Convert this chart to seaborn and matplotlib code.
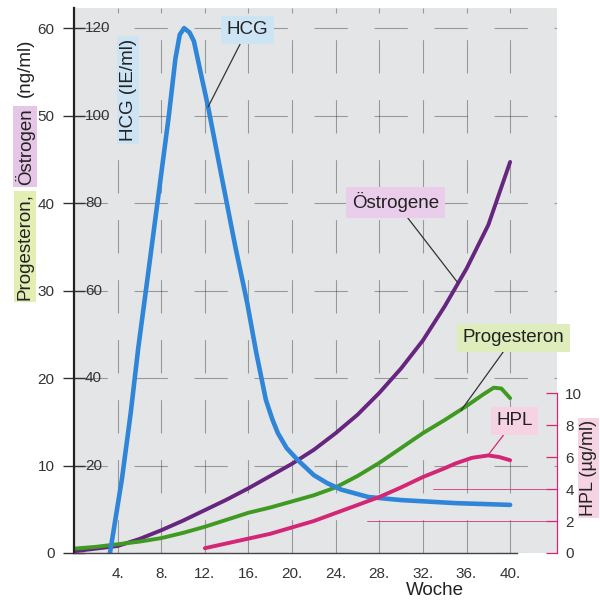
import numpy as np
import pandas as pd
import matplotlib.pyplot as plt
import matplotlib.transforms as mtransforms
import seaborn as sns

sns.set_style("ticks")
plt.rcParams['font.family'] = ['Liberation Sans', 'DejaVu Sans']

# HCG in IE/ml (inner scale = 2 x ng/ml scale)
hcg_weeks = [3.3, 4.4, 5.2, 5.9, 6.7, 7.65, 8.7, 9.3, 9.7, 10.1, 10.6, 11.0, 11.6, 12.3,
             13.0, 13.7, 14.8, 15.9, 16.7, 17.6, 18.2, 18.7, 19.5, 20.5, 22.0, 23.2,
             24.5, 27.0, 30.0, 35.0, 40.0]
hcg_values = [0, 17, 32, 47, 62, 80, 100, 113, 118.5, 120, 119, 117, 110, 102,
              93, 84, 70, 57, 46, 35, 30.5, 27.4, 24, 21.3, 17.8, 16,
              14.5, 12.8, 12.1, 11.4, 11.0]

# Oestrogene in ng/ml
oestro_weeks = [0, 2, 4, 6, 8, 10, 12, 14, 16, 18, 20, 22, 24, 26, 28, 30, 32, 34, 36, 38, 40]
oestro_values = [0.2, 0.5, 0.8, 1.6, 2.6, 3.7, 4.9, 6.1, 7.4, 8.8, 10.2, 11.8, 13.7, 15.8,
                 18.3, 21.1, 24.3, 28.2, 32.5, 37.5, 44.7]

# Progesteron in ng/ml
prog_weeks = [0, 2, 4, 6, 8, 10, 12, 14, 16, 18, 20, 22, 24, 26, 28, 30, 32, 34, 36,
              37.5, 38.5, 39.2, 40]
prog_values = [0.5, 0.7, 1.0, 1.3, 1.7, 2.3, 3.0, 3.8, 4.6, 5.2, 5.9, 6.6, 7.5, 8.8,
               10.3, 12.0, 13.7, 15.2, 16.8, 18.1, 18.9, 18.8, 17.7]

# HPL in ug/ml (right axis)
hpl_weeks = [12, 14, 16, 18, 20, 22, 24, 26, 28, 30, 32, 34, 35, 36.5, 38, 39, 40]
hpl_values = [0.3, 0.6, 0.9, 1.2, 1.6, 2.0, 2.5, 3.0, 3.5, 4.1, 4.75, 5.3, 5.6, 5.95,
              6.1, 6.0, 5.8]

left_ticks = [0, 10, 20, 30, 40, 50, 60]
hcg_ticks = [20, 40, 60, 80, 100, 120]
week_ticks = [4, 8, 12, 16, 20, 24, 28, 32, 36, 40]
hpl_ticks = [0, 2, 4, 6, 8, 10]

c_hcg = '#2f86d8'
c_oes = '#66267f'
c_prog = '#3f9a22'
c_hpl = '#d42677'

fig = plt.figure(figsize=(6, 6.03), dpi=100)
ax = fig.add_axes([74/600, 50/603, 483/600, 545/603])
ax.set_facecolor('#e4e5e6')
ax.set_xlim(0, 44.3)
ax.set_ylim(0, 62.3)

# sparse, broken-looking grid
ax.set_xticks(week_ticks)
ax.set_yticks(left_ticks)
ax.grid(True, color='#3c3c3c', lw=0.8, alpha=0.45, linestyle=(0, (30, 24)))
ax.set_axisbelow(True)

df_hcg = pd.DataFrame({'week': hcg_weeks, 'val': np.array(hcg_values) / 2})
df_oes = pd.DataFrame({'week': oestro_weeks, 'val': oestro_values})
df_prog = pd.DataFrame({'week': prog_weeks, 'val': prog_values})
sns.lineplot(data=df_oes, x='week', y='val', ax=ax, color=c_oes, lw=2.8)
sns.lineplot(data=df_prog, x='week', y='val', ax=ax, color=c_prog, lw=2.8)
sns.lineplot(data=df_hcg, x='week', y='val', ax=ax, color=c_hcg, lw=3.3)
for ln in ax.lines:
    ln.set_solid_joinstyle('round')
    ln.set_solid_capstyle('round')

ax.set_xticklabels([f'{w}.' for w in week_ticks])
ax.set_yticklabels([str(v) for v in left_ticks])
ax.tick_params(axis='x', length=0, pad=10, labelsize=11, labelcolor='#333')
ax.tick_params(axis='y', direction='inout', length=16, width=1, color='#333',
               pad=6, labelsize=11, labelcolor='#333')
ax.set_xlabel('')
ax.set_ylabel('')
for s in ['top', 'right']:
    ax.spines[s].set_visible(False)
ax.spines['left'].set_linewidth(1.6)
ax.spines['left'].set_color('#222')
ax.spines['bottom'].set_linewidth(1.0)
ax.spines['bottom'].set_color('#444')
ax.spines['bottom'].set_bounds(0, 40.6)

# inner HCG scale labels
trans = mtransforms.blended_transform_factory(ax.transAxes, ax.transData)
for v in hcg_ticks:
    ax.text(0.023, v / 2, str(v), transform=trans, ha='left', va='center',
            fontsize=11, color='#333')

ax.text(0.112, 0.85, 'HCG (IE/ml)', transform=ax.transAxes, rotation=90,
        ha='center', va='center', fontsize=13.5, color='#222',
        bbox=dict(boxstyle='square,pad=0.15', fc='#cde4f4', ec='none'))

ax.text(0.747, -0.068, 'Woche', transform=ax.transAxes, ha='center',
        va='center', fontsize=13.5, color='#222')

# right HPL axis
ax2 = ax.twinx()
ax2.set_ylim(0, 62.3 * 10 / (160 / 8.75))
df_hpl = pd.DataFrame({'week': hpl_weeks, 'val': hpl_values})
sns.lineplot(data=df_hpl, x='week', y='val', ax=ax2, color=c_hpl, lw=2.8)
ax2.lines[0].set_solid_capstyle('round')
ax2.lines[0].set_solid_joinstyle('round')
ax2.set_ylabel('')
ax2.set_yticks(hpl_ticks)
ax2.tick_params(axis='y', direction='in', length=8, color=c_hpl, width=0.9,
                pad=6, labelsize=11, labelcolor='#333')
for s in ['top', 'left', 'bottom']:
    ax2.spines[s].set_visible(False)
ax2.spines['right'].set_bounds(0, 10)
ax2.spines['right'].set_color(c_hpl)
ax2.spines['right'].set_linewidth(0.9)
ax2.axhline(2, xmin=0.607, xmax=1, color=c_hpl, lw=0.7, alpha=0.8)
ax2.axhline(4, xmin=0.743, xmax=1, color=c_hpl, lw=0.7, alpha=0.8)

# left composite axis label
fig.text(0.042, 0.5025, 'Progesteron,', rotation=90, ha='center', va='bottom',
         fontsize=13.5, color='#222',
         bbox=dict(boxstyle='square,pad=0.12', fc='#e3eeb4', ec='none'))
fig.text(0.042, 0.693, 'Östrogen', rotation=90, ha='center', va='bottom',
         fontsize=13.5, color='#222',
         bbox=dict(boxstyle='square,pad=0.12', fc='#e6c6e6', ec='none'))
fig.text(0.042, 0.839, '(ng/ml)', rotation=90, ha='center', va='bottom',
         fontsize=13.5, color='#222')

fig.text(0.981, 0.224, 'HPL (µg/ml)', rotation=90, ha='center', va='center',
         fontsize=13, color='#222',
         bbox=dict(boxstyle='square,pad=0.12', fc='#f6d3e2', ec='none'))

# curve labels with leader lines
arrow = dict(arrowstyle='-', color='#333', lw=0.9, shrinkA=0, shrinkB=0)
ax.annotate('HCG', xy=(12.3, 102 / 2), xytext=(15.9, 59.8), ha='center',
            va='center', fontsize=13.5, color='#222', arrowprops=arrow,
            bbox=dict(boxstyle='square,pad=0.3', fc='#cde4f4', ec='none'))
ax.annotate('Östrogene', xy=(35.2, 30.9), xytext=(29.5, 40.1), ha='center',
            va='center', fontsize=13.5, color='#222', arrowprops=arrow,
            bbox=dict(boxstyle='square,pad=0.3', fc='#e9cdea', ec='none'))
ax.annotate('Progesteron', xy=(35.5, 16.3), xytext=(40.3, 24.6), ha='center',
            va='center', fontsize=13.5, color='#222', arrowprops=arrow,
            bbox=dict(boxstyle='square,pad=0.3', fc='#dfedbc', ec='none'))
ax2.annotate('HPL', xy=(37.9, 6.05), xytext=(40.4, 8.26), ha='center',
             va='center', fontsize=13.5, color='#222',
             arrowprops=dict(arrowstyle='-', color=c_hpl, lw=0.9, shrinkA=0, shrinkB=0),
             bbox=dict(boxstyle='square,pad=0.3', fc='#f6d3e2', ec='none'))

fig.savefig('out.png', dpi=100)
